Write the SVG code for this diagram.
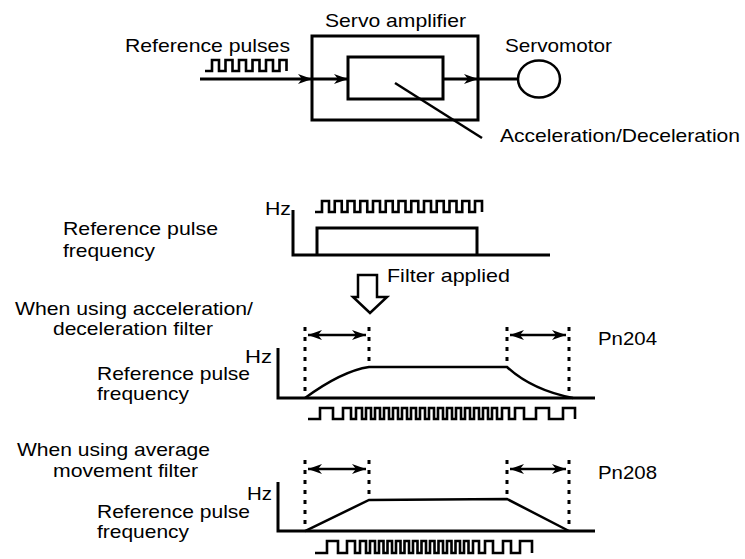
<svg xmlns="http://www.w3.org/2000/svg" width="745" height="559" viewBox="0 0 745 559">
<defs>
<style>
text{font-family:"Liberation Sans",Arial,sans-serif;font-size:18.5px;fill:#000}
.ln{fill:none;stroke:#000;stroke-width:3}
.th{fill:none;stroke:#000;stroke-width:2.5}
.pl{fill:none;stroke:#000;stroke-width:2.6;stroke-linejoin:miter}
.dot{fill:none;stroke:#000;stroke-width:3;stroke-dasharray:4 6}
</style>
<marker id="ah" viewBox="0 0 14 10" refX="14" refY="5" markerWidth="14" markerHeight="10" markerUnits="userSpaceOnUse" orient="auto-start-reverse">
<path d="M0,0 L14,5 L0,10 L4,5 z" fill="#000"/>
</marker>
</defs>
<rect width="745" height="559" fill="#fff"/>

<g id="servo-amplifier">
<rect x="312" y="36" width="166" height="84" class="ln"/>
<text x="325" y="27" textLength="141" lengthAdjust="spacingAndGlyphs">Servo amplifier</text>
</g>
<g id="filter-block">
<rect x="348" y="57" width="95" height="42" class="ln"/>
</g>
<g id="servomotor">
<ellipse cx="539" cy="79" rx="21" ry="18.5" class="th"/>
<text x="505" y="52" textLength="107" lengthAdjust="spacingAndGlyphs">Servomotor</text>
</g>
<g id="reference-pulses">
<text x="125" y="52" textLength="165" lengthAdjust="spacingAndGlyphs">Reference pulses</text>
<path class="pl" d="M205,71 H212 V60 H219 V71 H225.5 V60 H232.5 V71 H239 V60 H246 V71 H252.5 V60 H259.5 V71 H266 V60 H273 V71 H279.5 V60 H286.5 V71"/>
</g>
<g id="accel-label">
<text x="500" y="142" textLength="240" lengthAdjust="spacingAndGlyphs">Acceleration/Deceleration</text>
</g>

<g id="connectors">
<line x1="200" y1="79" x2="312" y2="79" class="ln" marker-end="url(#ah)"/>
<line x1="312" y1="79" x2="348" y2="79" class="ln" marker-end="url(#ah)"/>
<line x1="443" y1="79" x2="478" y2="79" class="ln" marker-end="url(#ah)"/>
<line x1="478" y1="79" x2="518" y2="79" class="ln"/>
<line x1="395" y1="83" x2="482" y2="138" class="th"/>
</g>

<g id="chart-reference">
<text x="265" y="215" textLength="26" lengthAdjust="spacingAndGlyphs">Hz</text>
<text x="63" y="235" textLength="155" lengthAdjust="spacingAndGlyphs">Reference pulse</text>
<text x="63" y="257" textLength="92" lengthAdjust="spacingAndGlyphs">frequency</text>
<path class="ln" d="M293,210 V255 H550"/>
<path class="ln" d="M317,255 V228 H477 V255"/>
<path class="pl" d="M315,212 H322 V201 H329 V212 H334.75 V201 H341.75 V212 H347.5 V201 H354.5 V212 H360.25 V201 H367.25 V212 H373 V201 H380 V212 H385.75 V201 H392.75 V212 H398.5 V201 H405.5 V212 H411.25 V201 H418.25 V212 H424 V201 H431 V212 H436.75 V201 H443.75 V212 H449.5 V201 H456.5 V212 H462.25 V201 H469.25 V212 H475 V201 H482 V212"/>
</g>

<g id="filter-applied">
<polygon points="358,275 377,275 377,297 387,297 370,313 353,297 358,297" fill="#fff" stroke="#000" stroke-width="2.5" stroke-linejoin="miter"/>
<text x="387" y="282" textLength="123" lengthAdjust="spacingAndGlyphs">Filter applied</text>
</g>

<g id="chart-accel-decel">
<text x="15" y="315" textLength="238" lengthAdjust="spacingAndGlyphs">When using acceleration/</text>
<text x="53" y="335" textLength="160" lengthAdjust="spacingAndGlyphs">deceleration filter</text>
<text x="245" y="363" textLength="27" lengthAdjust="spacingAndGlyphs">Hz</text>
<text x="97" y="380" textLength="153" lengthAdjust="spacingAndGlyphs">Reference pulse</text>
<text x="97" y="400" textLength="92" lengthAdjust="spacingAndGlyphs">frequency</text>
<text x="598" y="345" textLength="59" lengthAdjust="spacingAndGlyphs">Pn204</text>
<path class="ln" d="M278,348 V398 H595"/>
<line x1="305" y1="327" x2="305" y2="398" class="dot"/>
<line x1="369" y1="327" x2="369" y2="367" class="dot"/>
<line x1="507" y1="327" x2="507" y2="367" class="dot"/>
<line x1="569" y1="327" x2="569" y2="398" class="dot"/>
<line x1="308" y1="335" x2="366" y2="335" class="th" marker-start="url(#ah)" marker-end="url(#ah)"/>
<line x1="510" y1="335" x2="566" y2="335" class="th" marker-start="url(#ah)" marker-end="url(#ah)"/>
<path class="th" d="M305,398 Q342,371 369,367 H507 Q532,390 573,398"/>
<path class="pl" d="M308,419 H320 V408 H333 V419 H343 V408 H351 V419 H356 V408 H362 V419 H366 V408 H371 V419 H375 V408 H380 V419 H384 V408 H389 V419 H393 V408 H398 V419 H402 V408 H407 V419 H411 V408 H416 V419 H420 V408 H425 V419 H429 V408 H434 V419 H438 V408 H443 V419 H447 V408 H452 V419 H456 V408 H461 V419 H465 V408 H470 V419 H474 V408 H479 V419 H483 V408 H488 V419 H492 V408 H497 V419 H502 V408 H509 V419 H515 V408 H524 V419 H536 V408 H549 V419 H563 V408 H575 V419"/>
</g>

<g id="chart-average">
<text x="17" y="456" textLength="193" lengthAdjust="spacingAndGlyphs">When using average</text>
<text x="53" y="477" textLength="145" lengthAdjust="spacingAndGlyphs">movement filter</text>
<text x="247" y="500" textLength="25" lengthAdjust="spacingAndGlyphs">Hz</text>
<text x="97" y="518" textLength="153" lengthAdjust="spacingAndGlyphs">Reference pulse</text>
<text x="97" y="538" textLength="92" lengthAdjust="spacingAndGlyphs">frequency</text>
<text x="598" y="479" textLength="59" lengthAdjust="spacingAndGlyphs">Pn208</text>
<path class="ln" d="M278,482 V531 H595"/>
<line x1="305" y1="460" x2="305" y2="531" class="dot"/>
<line x1="369" y1="460" x2="369" y2="500" class="dot"/>
<line x1="507" y1="460" x2="507" y2="499" class="dot"/>
<line x1="569" y1="460" x2="569" y2="531" class="dot"/>
<line x1="308" y1="469" x2="366" y2="469" class="th" marker-start="url(#ah)" marker-end="url(#ah)"/>
<line x1="510" y1="469" x2="566" y2="469" class="th" marker-start="url(#ah)" marker-end="url(#ah)"/>
<path class="th" d="M305,531 L369,500 L507,499 L569,531"/>
<path class="pl" d="M315,553 H327 V541 H338 V553 H347 V541 H355 V553 H360 V541 H366 V553 H370 V541 H375 V553 H379 V541 H383.5 V553 H387.5 V541 H392 V553 H396 V541 H400.5 V553 H404.5 V541 H409 V553 H413 V541 H417.5 V553 H421.5 V541 H426 V553 H430 V541 H434.5 V553 H438.5 V541 H443 V553 H447 V541 H451.5 V553 H455.5 V541 H460 V553 H464 V541 H468.5 V553 H473 V541 H479 V553 H485 V541 H493 V553 H503 V541 H511 V553 H520 V541 H532 V553"/>
</g>
</svg>
